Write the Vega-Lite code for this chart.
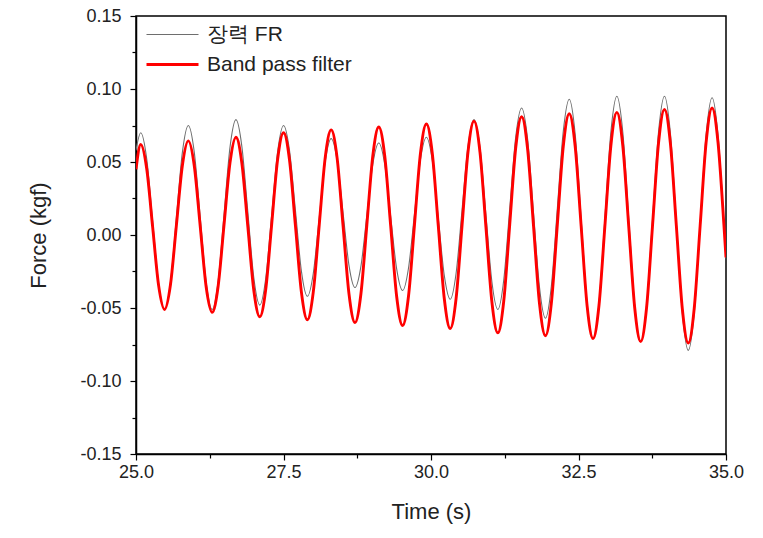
{
  "$schema": "https://vega.github.io/schema/vega-lite/v6.json",
  "autosize": "none",
  "width": 590,
  "height": 438,
  "padding": {"left": 136, "top": 16, "right": 37, "bottom": 84},
  "background": "white",
  "config": {
    "font": "Liberation Sans",
    "view": {"stroke": "black", "strokeWidth": 1.5},
    "axis": {
      "grid": false,
      "domainColor": "black",
      "domainWidth": 1.5,
      "tickColor": "black",
      "tickWidth": 1.2,
      "labelFont": "Liberation Sans",
      "labelFontSize": 18,
      "labelColor": "#222",
      "titleFont": "Liberation Sans",
      "titleFontSize": 22,
      "titleFontWeight": "normal",
      "titleColor": "#222"
    },
    "legend": {
      "labelFont": "Liberation Sans",
      "labelFontSize": 21,
      "labelColor": "#222"
    }
  },
  "datasets": {
    "fr": [
      {"t": 25.000, "f": 0.058, "s": "장력 FR"},
      {"t": 25.080, "f": 0.070, "s": "장력 FR"},
      {"t": 25.181, "f": 0.0523, "s": "장력 FR"},
      {"t": 25.282, "f": 0.0095, "s": "장력 FR"},
      {"t": 25.383, "f": -0.0333, "s": "장력 FR"},
      {"t": 25.484, "f": -0.051, "s": "장력 FR"},
      {"t": 25.584, "f": -0.0326, "s": "장력 FR"},
      {"t": 25.685, "f": 0.0120, "s": "장력 FR"},
      {"t": 25.786, "f": 0.0566, "s": "장력 FR"},
      {"t": 25.887, "f": 0.075, "s": "장력 FR"},
      {"t": 25.988, "f": 0.0566, "s": "장력 FR"},
      {"t": 26.089, "f": 0.0120, "s": "장력 FR"},
      {"t": 26.190, "f": -0.0326, "s": "장력 FR"},
      {"t": 26.291, "f": -0.051, "s": "장력 FR"},
      {"t": 26.391, "f": -0.0320, "s": "장력 FR"},
      {"t": 26.492, "f": 0.0140, "s": "장력 FR"},
      {"t": 26.593, "f": 0.0600, "s": "장력 FR"},
      {"t": 26.694, "f": 0.079, "s": "장력 FR"},
      {"t": 26.795, "f": 0.0604, "s": "장력 FR"},
      {"t": 26.896, "f": 0.0155, "s": "장력 FR"},
      {"t": 26.997, "f": -0.0294, "s": "장력 FR"},
      {"t": 27.098, "f": -0.048, "s": "장력 FR"},
      {"t": 27.198, "f": -0.0300, "s": "장력 FR"},
      {"t": 27.299, "f": 0.0135, "s": "장력 FR"},
      {"t": 27.400, "f": 0.0570, "s": "장력 FR"},
      {"t": 27.501, "f": 0.075, "s": "장력 FR"},
      {"t": 27.602, "f": 0.0579, "s": "장력 FR"},
      {"t": 27.703, "f": 0.0165, "s": "장력 FR"},
      {"t": 27.804, "f": -0.0249, "s": "장력 FR"},
      {"t": 27.905, "f": -0.042, "s": "장력 FR"},
      {"t": 28.005, "f": -0.0262, "s": "장력 FR"},
      {"t": 28.106, "f": 0.0120, "s": "장력 FR"},
      {"t": 28.207, "f": 0.0502, "s": "장력 FR"},
      {"t": 28.308, "f": 0.066, "s": "장력 FR"},
      {"t": 28.409, "f": 0.0511, "s": "장력 FR"},
      {"t": 28.510, "f": 0.0150, "s": "장력 FR"},
      {"t": 28.611, "f": -0.0211, "s": "장력 FR"},
      {"t": 28.712, "f": -0.036, "s": "장력 FR"},
      {"t": 28.812, "f": -0.0215, "s": "장력 FR"},
      {"t": 28.913, "f": 0.0135, "s": "장력 FR"},
      {"t": 29.014, "f": 0.0485, "s": "장력 FR"},
      {"t": 29.115, "f": 0.063, "s": "장력 FR"},
      {"t": 29.216, "f": 0.0482, "s": "장력 FR"},
      {"t": 29.317, "f": 0.0125, "s": "장력 FR"},
      {"t": 29.418, "f": -0.0232, "s": "장력 FR"},
      {"t": 29.519, "f": -0.038, "s": "장력 FR"},
      {"t": 29.619, "f": -0.0226, "s": "장력 FR"},
      {"t": 29.720, "f": 0.0145, "s": "장력 FR"},
      {"t": 29.821, "f": 0.0516, "s": "장력 FR"},
      {"t": 29.922, "f": 0.067, "s": "장력 FR"},
      {"t": 30.023, "f": 0.0507, "s": "장력 FR"},
      {"t": 30.124, "f": 0.0115, "s": "장력 FR"},
      {"t": 30.225, "f": -0.0277, "s": "장력 FR"},
      {"t": 30.326, "f": -0.044, "s": "장력 FR"},
      {"t": 30.426, "f": -0.0260, "s": "장력 FR"},
      {"t": 30.527, "f": 0.0175, "s": "장력 FR"},
      {"t": 30.628, "f": 0.0610, "s": "장력 FR"},
      {"t": 30.729, "f": 0.079, "s": "장력 FR"},
      {"t": 30.830, "f": 0.0600, "s": "장력 FR"},
      {"t": 30.931, "f": 0.0140, "s": "장력 FR"},
      {"t": 31.032, "f": -0.0320, "s": "장력 FR"},
      {"t": 31.133, "f": -0.051, "s": "장력 FR"},
      {"t": 31.233, "f": -0.0308, "s": "장력 FR"},
      {"t": 31.334, "f": 0.0180, "s": "장력 FR"},
      {"t": 31.435, "f": 0.0668, "s": "장력 FR"},
      {"t": 31.536, "f": 0.087, "s": "장력 FR"},
      {"t": 31.637, "f": 0.0659, "s": "장력 FR"},
      {"t": 31.738, "f": 0.0150, "s": "장력 FR"},
      {"t": 31.839, "f": -0.0359, "s": "장력 FR"},
      {"t": 31.940, "f": -0.057, "s": "장력 FR"},
      {"t": 32.040, "f": -0.0350, "s": "장력 FR"},
      {"t": 32.141, "f": 0.0180, "s": "장력 FR"},
      {"t": 32.242, "f": 0.0710, "s": "장력 FR"},
      {"t": 32.343, "f": 0.093, "s": "장력 FR"},
      {"t": 32.444, "f": 0.0690, "s": "장력 FR"},
      {"t": 32.545, "f": 0.0110, "s": "장력 FR"},
      {"t": 32.646, "f": -0.0470, "s": "장력 FR"},
      {"t": 32.747, "f": -0.071, "s": "장력 FR"},
      {"t": 32.847, "f": -0.0467, "s": "장력 FR"},
      {"t": 32.948, "f": 0.0120, "s": "장력 FR"},
      {"t": 33.049, "f": 0.0707, "s": "장력 FR"},
      {"t": 33.150, "f": 0.095, "s": "장력 FR"},
      {"t": 33.251, "f": 0.0704, "s": "장력 FR"},
      {"t": 33.352, "f": 0.0110, "s": "장력 FR"},
      {"t": 33.453, "f": -0.0484, "s": "장력 FR"},
      {"t": 33.554, "f": -0.073, "s": "장력 FR"},
      {"t": 33.654, "f": -0.0484, "s": "장력 FR"},
      {"t": 33.755, "f": 0.0110, "s": "장력 FR"},
      {"t": 33.856, "f": 0.0704, "s": "장력 FR"},
      {"t": 33.957, "f": 0.095, "s": "장력 FR"},
      {"t": 34.058, "f": 0.0695, "s": "장력 FR"},
      {"t": 34.159, "f": 0.0080, "s": "장력 FR"},
      {"t": 34.260, "f": -0.0535, "s": "장력 FR"},
      {"t": 34.361, "f": -0.079, "s": "장력 FR"},
      {"t": 34.461, "f": -0.0537, "s": "장력 FR"},
      {"t": 34.562, "f": 0.0075, "s": "장력 FR"},
      {"t": 34.663, "f": 0.0687, "s": "장력 FR"},
      {"t": 34.764, "f": 0.094, "s": "장력 FR"},
      {"t": 34.865, "f": 0.0685, "s": "장력 FR"},
      {"t": 34.966, "f": 0.0070, "s": "장력 FR"},
      {"t": 35.000, "f": -0.016, "s": "장력 FR"}
    ],
    "bp": [
      {"t": 25.000, "f": 0.045, "s": "Band pass filter"},
      {"t": 25.080, "f": 0.062, "s": "Band pass filter"},
      {"t": 25.181, "f": 0.0455, "s": "Band pass filter"},
      {"t": 25.282, "f": 0.0055, "s": "Band pass filter"},
      {"t": 25.383, "f": -0.0345, "s": "Band pass filter"},
      {"t": 25.484, "f": -0.051, "s": "Band pass filter"},
      {"t": 25.584, "f": -0.0341, "s": "Band pass filter"},
      {"t": 25.685, "f": 0.0068, "s": "Band pass filter"},
      {"t": 25.786, "f": 0.0476, "s": "Band pass filter"},
      {"t": 25.887, "f": 0.0645, "s": "Band pass filter"},
      {"t": 25.988, "f": 0.0473, "s": "Band pass filter"},
      {"t": 26.089, "f": 0.0058, "s": "Band pass filter"},
      {"t": 26.190, "f": -0.0358, "s": "Band pass filter"},
      {"t": 26.291, "f": -0.053, "s": "Band pass filter"},
      {"t": 26.391, "f": -0.0354, "s": "Band pass filter"},
      {"t": 26.492, "f": 0.0070, "s": "Band pass filter"},
      {"t": 26.593, "f": 0.0494, "s": "Band pass filter"},
      {"t": 26.694, "f": 0.067, "s": "Band pass filter"},
      {"t": 26.795, "f": 0.0490, "s": "Band pass filter"},
      {"t": 26.896, "f": 0.0055, "s": "Band pass filter"},
      {"t": 26.997, "f": -0.0380, "s": "Band pass filter"},
      {"t": 27.098, "f": -0.056, "s": "Band pass filter"},
      {"t": 27.198, "f": -0.0376, "s": "Band pass filter"},
      {"t": 27.299, "f": 0.0070, "s": "Band pass filter"},
      {"t": 27.400, "f": 0.0516, "s": "Band pass filter"},
      {"t": 27.501, "f": 0.070, "s": "Band pass filter"},
      {"t": 27.602, "f": 0.0513, "s": "Band pass filter"},
      {"t": 27.703, "f": 0.0060, "s": "Band pass filter"},
      {"t": 27.804, "f": -0.0393, "s": "Band pass filter"},
      {"t": 27.905, "f": -0.058, "s": "Band pass filter"},
      {"t": 28.005, "f": -0.0390, "s": "Band pass filter"},
      {"t": 28.106, "f": 0.0070, "s": "Band pass filter"},
      {"t": 28.207, "f": 0.0530, "s": "Band pass filter"},
      {"t": 28.308, "f": 0.072, "s": "Band pass filter"},
      {"t": 28.409, "f": 0.0527, "s": "Band pass filter"},
      {"t": 28.510, "f": 0.0060, "s": "Band pass filter"},
      {"t": 28.611, "f": -0.0407, "s": "Band pass filter"},
      {"t": 28.712, "f": -0.060, "s": "Band pass filter"},
      {"t": 28.812, "f": -0.0404, "s": "Band pass filter"},
      {"t": 28.913, "f": 0.0070, "s": "Band pass filter"},
      {"t": 29.014, "f": 0.0544, "s": "Band pass filter"},
      {"t": 29.115, "f": 0.074, "s": "Band pass filter"},
      {"t": 29.216, "f": 0.0541, "s": "Band pass filter"},
      {"t": 29.317, "f": 0.0060, "s": "Band pass filter"},
      {"t": 29.418, "f": -0.0421, "s": "Band pass filter"},
      {"t": 29.519, "f": -0.062, "s": "Band pass filter"},
      {"t": 29.619, "f": -0.0418, "s": "Band pass filter"},
      {"t": 29.720, "f": 0.0070, "s": "Band pass filter"},
      {"t": 29.821, "f": 0.0558, "s": "Band pass filter"},
      {"t": 29.922, "f": 0.076, "s": "Band pass filter"},
      {"t": 30.023, "f": 0.0555, "s": "Band pass filter"},
      {"t": 30.124, "f": 0.0060, "s": "Band pass filter"},
      {"t": 30.225, "f": -0.0435, "s": "Band pass filter"},
      {"t": 30.326, "f": -0.064, "s": "Band pass filter"},
      {"t": 30.426, "f": -0.0432, "s": "Band pass filter"},
      {"t": 30.527, "f": 0.0070, "s": "Band pass filter"},
      {"t": 30.628, "f": 0.0572, "s": "Band pass filter"},
      {"t": 30.729, "f": 0.078, "s": "Band pass filter"},
      {"t": 30.830, "f": 0.0568, "s": "Band pass filter"},
      {"t": 30.931, "f": 0.0055, "s": "Band pass filter"},
      {"t": 31.032, "f": -0.0458, "s": "Band pass filter"},
      {"t": 31.133, "f": -0.067, "s": "Band pass filter"},
      {"t": 31.233, "f": -0.0453, "s": "Band pass filter"},
      {"t": 31.334, "f": 0.0070, "s": "Band pass filter"},
      {"t": 31.435, "f": 0.0593, "s": "Band pass filter"},
      {"t": 31.536, "f": 0.081, "s": "Band pass filter"},
      {"t": 31.637, "f": 0.0590, "s": "Band pass filter"},
      {"t": 31.738, "f": 0.0060, "s": "Band pass filter"},
      {"t": 31.839, "f": -0.0470, "s": "Band pass filter"},
      {"t": 31.940, "f": -0.069, "s": "Band pass filter"},
      {"t": 32.040, "f": -0.0467, "s": "Band pass filter"},
      {"t": 32.141, "f": 0.0070, "s": "Band pass filter"},
      {"t": 32.242, "f": 0.0607, "s": "Band pass filter"},
      {"t": 32.343, "f": 0.083, "s": "Band pass filter"},
      {"t": 32.444, "f": 0.0605, "s": "Band pass filter"},
      {"t": 32.545, "f": 0.0060, "s": "Band pass filter"},
      {"t": 32.646, "f": -0.0485, "s": "Band pass filter"},
      {"t": 32.747, "f": -0.071, "s": "Band pass filter"},
      {"t": 32.847, "f": -0.0483, "s": "Band pass filter"},
      {"t": 32.948, "f": 0.0065, "s": "Band pass filter"},
      {"t": 33.049, "f": 0.0613, "s": "Band pass filter"},
      {"t": 33.150, "f": 0.084, "s": "Band pass filter"},
      {"t": 33.251, "f": 0.0610, "s": "Band pass filter"},
      {"t": 33.352, "f": 0.0055, "s": "Band pass filter"},
      {"t": 33.453, "f": -0.0500, "s": "Band pass filter"},
      {"t": 33.554, "f": -0.073, "s": "Band pass filter"},
      {"t": 33.654, "f": -0.0497, "s": "Band pass filter"},
      {"t": 33.755, "f": 0.0065, "s": "Band pass filter"},
      {"t": 33.856, "f": 0.0627, "s": "Band pass filter"},
      {"t": 33.957, "f": 0.086, "s": "Band pass filter"},
      {"t": 34.058, "f": 0.0626, "s": "Band pass filter"},
      {"t": 34.159, "f": 0.0060, "s": "Band pass filter"},
      {"t": 34.260, "f": -0.0506, "s": "Band pass filter"},
      {"t": 34.361, "f": -0.074, "s": "Band pass filter"},
      {"t": 34.461, "f": -0.0504, "s": "Band pass filter"},
      {"t": 34.562, "f": 0.0065, "s": "Band pass filter"},
      {"t": 34.663, "f": 0.0634, "s": "Band pass filter"},
      {"t": 34.764, "f": 0.087, "s": "Band pass filter"},
      {"t": 34.865, "f": 0.0633, "s": "Band pass filter"},
      {"t": 34.966, "f": 0.0060, "s": "Band pass filter"},
      {"t": 35.000, "f": -0.0154, "s": "Band pass filter"}
    ]
  },
  "encoding": {
    "x": {
      "field": "t", "type": "quantitative",
      "scale": {"domain": [25, 35], "nice": false, "zero": false},
      "axis": {
        "title": "Time (s)",
        "values": [25, 26.25, 27.5, 28.75, 30, 31.25, 32.5, 33.75, 35],
        "labelExpr": "abs(round(datum.value/2.5)*2.5 - datum.value) < 0.001 ? format(datum.value, '.1f') : ''",
        "tickSize": {"condition": {"test": "abs(round(datum.value/2.5)*2.5 - datum.value) < 0.001", "value": 6}, "value": 4},
        "labelPadding": 3,
        "labelFlush": false,
        "labelOverlap": false,
        "titlePadding": 20
      }
    },
    "y": {
      "field": "f", "type": "quantitative",
      "scale": {"domain": [-0.15, 0.15], "nice": false, "zero": false},
      "axis": {
        "title": "Force (kgf)",
        "values": [-0.15, -0.125, -0.1, -0.075, -0.05, -0.025, 0, 0.025, 0.05, 0.075, 0.1, 0.125, 0.15],
        "labelExpr": "abs(round(datum.value*20) - datum.value*20) < 0.001 ? replace(format(datum.value, '.2f'), '\u2212', '-') : ''",
        "tickSize": {"condition": {"test": "abs(round(datum.value*20) - datum.value*20) < 0.001", "value": 6}, "value": 4},
        "labelPadding": 9,
        "labelFlush": false,
        "labelOverlap": false,
        "titlePadding": 29
      }
    },
    "color": {
      "field": "s", "type": "nominal",
      "scale": {"domain": ["장력 FR", "Band pass filter"], "range": ["#6e6e6e", "#ff0000"]},
      "legend": {
        "title": null,
        "orient": "none",
        "legendX": 10,
        "legendY": 8,
        "symbolType": "stroke",
        "symbolSize": 2704,
        "symbolStrokeWidth": 1.5,
        "symbolOffset": 16,
        "labelOffset": 24,
        "rowPadding": 8,
        "padding": 0,
        "encode": {
          "symbols": {"update": {"strokeWidth": {"signal": "datum.value === 'Band pass filter' ? 3 : 1.2"}}}
        }
      }
    }
  },
  "layer": [
    {
      "data": {"name": "fr"},
      "mark": {"type": "line", "interpolate": "monotone", "strokeWidth": 1.1, "clip": true}
    },
    {
      "data": {"name": "bp"},
      "mark": {"type": "line", "interpolate": "monotone", "strokeWidth": 2.9, "clip": true}
    }
  ]
}
